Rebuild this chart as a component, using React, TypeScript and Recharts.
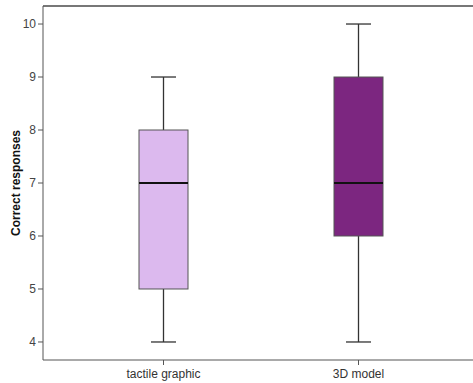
import { Bar, ComposedChart, ReferenceLine, XAxis, YAxis } from "recharts";

const categories = ["tactile graphic", "3D model"];
const mins = [4, 4];
const q1s = [5, 6];
const medians = [7, 7];
const q3s = [8, 9];
const maxes = [9, 10];
const fills = ["#dcb9ee", "#7c2680"];
const yTicks = [4, 5, 6, 7, 8, 9, 10];
const yDomain = [3.66, 10.34];

const data = categories.map((name, i) => ({
  name,
  min: mins[i],
  q1: q1s[i],
  median: medians[i],
  q3: q3s[i],
  max: maxes[i],
  fill: fills[i],
}));

// Range bar [min, max] gives us pixel extents; interpolate the inner stats from it.
function BoxShape(props: any) {
  const { x, y, width, height, payload } = props;
  const { min, q1, median, q3, max, fill } = payload;
  const px = (v: number) => y + (height * (max - v)) / (max - min);
  const cx = x + width / 2;
  const cap = 25;
  return (
    <g>
      <line x1={cx} x2={cx} y1={px(max)} y2={px(q3)} stroke="#333" strokeWidth={1.3} />
      <line x1={cx} x2={cx} y1={px(q1)} y2={px(min)} stroke="#333" strokeWidth={1.3} />
      <line x1={cx - cap / 2} x2={cx + cap / 2} y1={px(max)} y2={px(max)} stroke="#333" strokeWidth={1.3} />
      <line x1={cx - cap / 2} x2={cx + cap / 2} y1={px(min)} y2={px(min)} stroke="#333" strokeWidth={1.3} />
      <rect x={x} y={px(q3)} width={width} height={px(q1) - px(q3)} fill={fill} stroke="#555" strokeWidth={1} />
      <line x1={x} x2={x + width} y1={px(median)} y2={px(median)} stroke="#111" strokeWidth={2} />
    </g>
  );
}

function AxisTitle({ viewBox }: any) {
  const cy = viewBox.y + viewBox.height / 2;
  return (
    <text
      x={16}
      y={cy}
      transform={`rotate(-90 16 ${cy})`}
      textAnchor="middle"
      dominantBaseline="central"
      fontSize={12}
      fontWeight="bold"
      fill="#111"
    >
      Correct responses
    </text>
  );
}

export default function App() {
  return (
    <div style={{ position: "absolute", left: 0, top: 0, background: "#fff", fontFamily: "'Liberation Sans', Arial, sans-serif" }}>
      <ComposedChart width={473} height={383} data={data} margin={{ top: 6, right: 0, bottom: 0, left: 0 }}>
        <XAxis
          dataKey="name"
          height={23}
          padding={{ left: 23, right: 17 }}
          tickSize={5}
          tickMargin={4}
          axisLine={{ stroke: "#555" }}
          tickLine={{ stroke: "#555" }}
          tick={{ fill: "#333", fontSize: 12 }}
        />
        <YAxis
          width={43}
          domain={yDomain}
          ticks={yTicks}
          allowDataOverflow
          tickSize={5}
          tickMargin={2}
          axisLine={{ stroke: "#555" }}
          tickLine={{ stroke: "#555" }}
          tick={{ fill: "#444", fontSize: 12 }}
          label={<AxisTitle />}
        />
        <ReferenceLine y={yDomain[1]} stroke="#777" strokeWidth={2} ifOverflow="visible" />
        <Bar
          dataKey={(d: any) => [d.min, d.max]}
          barSize={49}
          shape={<BoxShape />}
          isAnimationActive={false}
        />
      </ComposedChart>
    </div>
  );
}
